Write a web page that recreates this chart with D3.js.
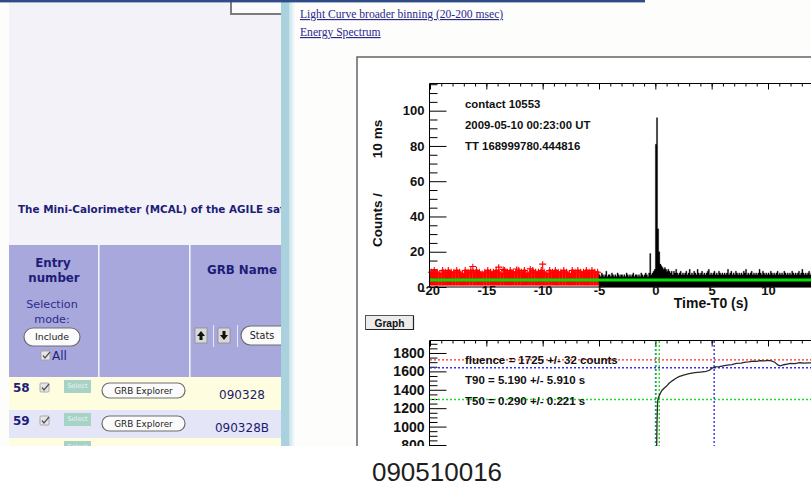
<!DOCTYPE html>
<html>
<head>
<meta charset="utf-8">
<script src="https://cdn.jsdelivr.net/npm/d3@7"></script>
<style>
  html, body { margin: 0; padding: 0; background: #fff; }
  svg { display: block; }
</style>
</head>
<body>
<svg id="chart" width="811" height="486"></svg>
<script>
// ---------- page text ----------
const pageLinks = ["Light Curve broader binning (20-200 msec)", "Energy Spectrum"];
const introText = "The Mini-Calorimeter (MCAL) of the AGILE satellite";
const tableRows = [
  { entry: "58", name: "090328" },
  { entry: "59", name: "090328B" },
  { entry: "60", name: "" }
];
const infoLines = ["contact 10553", "2009-05-10 00:23:00 UT", "TT 168999780.444816"];
const statLines = ["fluence = 1725 +/- 32 counts", "T90 = 5.190 +/- 5.910 s", "T50 = 0.290 +/- 0.221 s"];
const caption = "090510016";

// ---------- light curve (counts per 10 ms) ----------
const timeTicks = [-20, -15, -10, -5, 0, 5, 10, 15];
const timeLabels = [-20, -15, -10, -5, 0, 5, 10];
const countTicks = [0, 20, 40, 60, 80, 100];

// background interval -20 .. -5 s: highest 10 ms count in each 0.25 s stretch
const bgStart = -20, bgStep = 0.25;
const bgPeaks = [
  9, 10, 9, 8, 10, 9, 10, 9, 9, 10,
  9, 8, 10, 9, 10, 9, 10, 9, 8, 9,
  10, 9, 9, 10, 9, 8, 10, 9, 10, 9,
  9, 10, 9, 10, 8, 9, 10, 9, 9, 10,
  9, 8, 10, 9, 10, 9, 9, 10, 9, 8,
  10, 9, 10, 9, 9, 10, 9, 10, 9, 9
];
// isolated high background points [time, count]
const bgOutliers = [[-16.2, 11.6], [-13.9, 11.3], [-13.5, 10.0], [-12.3, 10.2], [-11.1, 10.3], [-10.0, 13.0]];

// burst interval from -5 s, 0.1 s stretches
const lcStart = -5, lcStep = 0.1;
const lcCounts = [
  7, 6, 8, 7, 6, 7, 9, 6, 7, 7,
  6, 8, 7, 6, 7, 6, 8, 7, 6, 7,
  7, 6, 7, 6, 8, 7, 6, 7, 6, 7,
  8, 6, 7, 7, 6, 7, 6, 8, 7, 6,
  7, 8, 7, 6, 8, 19, 7, 8, 9, 10,
  81, 96, 33, 20, 13, 12, 11, 10, 11, 10,
  9, 10, 9, 8, 9, 7, 9, 8, 10, 8,
  7, 8, 9, 7, 8, 7, 8, 9, 7, 8,
  10, 7, 8, 7, 9, 8, 7, 10, 8, 7,
  8, 9, 7, 8, 7, 8, 9, 10, 7, 8,
  7, 8, 9, 7, 8, 7, 9, 8, 7, 8,
  7, 8, 7, 8, 10, 7, 8, 9, 7, 8,
  7, 9, 8, 7, 8, 7, 8, 7, 9, 8,
  10, 7, 8, 7, 8, 9, 7, 8, 7, 8,
  7, 8, 10, 8, 7, 9, 8, 7, 8, 7,
  8, 7, 9, 8, 7, 8, 7, 8, 9, 7,
  8, 7, 8, 7, 9, 8, 7, 8, 7, 8,
  7, 9, 8, 7, 8, 7, 8, 9, 7, 8,
  10, 8, 7, 8, 7, 8, 9, 7, 8, 7,
  8, 7, 9, 8, 7
];
const bgLevel = 4.0;

// ---------- cumulative counts ----------
const cumTicks = [800, 1000, 1200, 1400, 1600, 1800];
const cumTime = [-2, -1, 0.0, 0.05, 0.1, 0.15, 0.2, 0.25, 0.3, 0.4, 0.5, 0.6, 0.8, 1.0, 1.2, 1.5, 1.8, 2.1, 2.5,
  3.0, 3.5, 4.0, 4.5, 4.8, 5.0, 5.3, 5.7, 6.0, 6.4, 6.8, 7.2, 7.6, 8.0, 8.3, 8.7, 9.0, 9.3, 9.7,
  10.0, 10.3, 10.6, 10.9, 11.1, 11.4, 11.7, 12.0, 12.4, 12.8, 13.2, 13.6, 14.0];
const cumCounts = [5, 15, 40, 200, 600, 1050, 1270, 1305, 1322, 1350, 1375, 1395, 1420, 1440, 1468, 1497, 1522, 1542, 1560,
  1576, 1586, 1593, 1601, 1612, 1632, 1648, 1652, 1661, 1668, 1673, 1686, 1690, 1701, 1704, 1712, 1708, 1716, 1714,
  1719, 1713, 1699, 1667, 1660, 1672, 1680, 1688, 1685, 1694, 1690, 1693, 1692];
const levelValues = [1725, 1639, 1294, 431, 86];
const levelColors = ["#ff2a2a", "#2f2fff", "#22dd22", "#22dd22", "#2f2fff"];
const t90Edges = [0.02, 5.22];
const t50Edges = [0.06, 0.35];

// ---------- drawing ----------
const svg = d3.select("#chart");
const defs = svg.append("defs");
defs.append("clipPath").attr("id", "shotClip")
  .append("rect").attr("x", 0).attr("y", 0).attr("width", 811).attr("height", 446);
defs.append("clipPath").attr("id", "leftClip")
  .append("rect").attr("x", 9).attr("y", 0).attr("width", 272).attr("height", 446);
const fade = defs.append("linearGradient").attr("id", "stripeFade").attr("x1", 0).attr("x2", 1).attr("y1", 0).attr("y2", 0);
fade.append("stop").attr("offset", 0).attr("stop-color", "#c6e2ea");
fade.append("stop").attr("offset", 1).attr("stop-color", "#fdfdfc");

svg.append("rect").attr("width", 811).attr("height", 486).attr("fill", "#fff");

const shot = svg.append("g").attr("clip-path", "url(#shotClip)");
shot.append("rect").attr("x", 0).attr("y", 0).attr("width", 811).attr("height", 446).attr("fill", "#fdfdfc");

// ----- left column -----
const NAVY = "#1d1d78";
const UI = "DejaVu Sans, Verdana, sans-serif";
const left = shot.append("g").attr("clip-path", "url(#leftClip)");
left.append("rect").attr("x", 9).attr("y", 0).attr("width", 272).attr("height", 446).attr("fill", "#f4f2f9");
left.append("path").attr("d", "M231,0 V14 H290").attr("fill", "none").attr("stroke", "#7c7c7c").attr("stroke-width", 2);
left.append("rect").attr("x", 232).attr("y", 0).attr("width", 60).attr("height", 13).attr("fill", "#fbfbfd");

left.append("text").attr("x", 18).attr("y", 212.5).text(introText)
  .attr("font-family", UI).attr("font-weight", "bold").attr("font-size", 10.4).attr("fill", NAVY);

// table header
left.append("rect").attr("x", 9).attr("y", 245).attr("width", 272).attr("height", 132).attr("fill", "#a8a8dc");
[98, 189].forEach(xx => left.append("rect").attr("x", xx).attr("y", 245).attr("width", 1.6).attr("height", 132).attr("fill", "#f2f2fb"));

const hdr = (t, x, y, size, weight, color) => left.append("text").attr("x", x).attr("y", y).text(t)
  .attr("text-anchor", "middle").attr("font-family", UI).attr("font-size", size)
  .attr("font-weight", weight).attr("fill", color || NAVY);
hdr("Entry", 53, 267, 11.8, "bold");
hdr("number", 54, 281.5, 11.8, "bold");
hdr("Selection", 52, 308, 11.2, "normal", "#2c2c8c");
hdr("mode:", 52, 323, 11.2, "normal", "#2c2c8c");
hdr("GRB Name", 242, 274, 11.8, "bold");

function pill(g, x, y, w, h, label, size, tx) {
  g.append("rect").attr("x", x).attr("y", y).attr("width", w).attr("height", h).attr("rx", h / 2)
    .attr("fill", "#fbfbfb").attr("stroke", "#6e6e6e").attr("stroke-width", 1.2);
  g.append("text").attr("x", tx || x + w / 2).attr("y", y + h / 2 + size * 0.36).text(label)
    .attr("text-anchor", "middle").attr("font-family", UI).attr("font-size", size).attr("fill", "#222");
}
function checkbox(g, x, y) {
  g.append("rect").attr("x", x).attr("y", y).attr("width", 9).attr("height", 9).attr("rx", 1)
    .attr("fill", "#e6e6e6").attr("stroke", "#9a9a9a").attr("stroke-width", 0.8);
  g.append("path").attr("d", `M${x + 2},${y + 4.5} L${x + 4},${y + 7} L${x + 9},${y + 1}`)
    .attr("fill", "none").attr("stroke", "#555").attr("stroke-width", 1.3);
}
function selectBox(g, x, y, h) {
  g.append("rect").attr("x", x).attr("y", y).attr("width", 27).attr("height", h).attr("fill", "#a7d3c6");
  g.append("text").attr("x", x + 13.5).attr("y", y + 8).text("Select").attr("text-anchor", "middle")
    .attr("font-family", UI).attr("font-size", 6.5).attr("fill", "#e9f5f1");
}

pill(left, 24, 328, 56, 18, "Include", 9.4);
checkbox(left, 41, 351);
left.append("text").attr("x", 52).attr("y", 360).text("All").attr("font-family", UI).attr("font-size", 12).attr("fill", NAVY);

// sort arrows + stats
[[195, "up"], [218, "down"]].forEach(([bx, dir]) => {
  left.append("rect").attr("x", bx).attr("y", 328).attr("width", 12).attr("height", 15)
    .attr("fill", "#d9d9d9").attr("stroke", "#8a8a8a").attr("stroke-width", 0.8);
  const cx = bx + 6;
  const d = dir === "up"
    ? `M${cx},${331} L${cx + 4},${336} H${cx + 1.5} V${340} H${cx - 1.5} V${336} H${cx - 4} Z`
    : `M${cx},${340} L${cx + 4},${335} H${cx + 1.5} V${331} H${cx - 1.5} V${335} H${cx - 4} Z`;
  left.append("path").attr("d", d).attr("fill", "#111");
});
[213, 237].forEach(xx => left.append("rect").attr("x", xx).attr("y", 325).attr("width", 1).attr("height", 22).attr("fill", "#e8e8f8"));
pill(left, 241, 326, 60, 19, "Stats", 9.6, 262);

// table rows
const rowTop = [377, 410, 438];
const rowH = [33, 28, 30];
const rowFill = ["#fefde0", "#e5e5f8", "#fefde0"];
tableRows.forEach((r, i) => {
  const y0 = rowTop[i];
  left.append("rect").attr("x", 9).attr("y", y0).attr("width", 272).attr("height", rowH[i]).attr("fill", rowFill[i]);
  selectBox(left, 64, y0 + 3, 13);
  if (r.name) {
    left.append("text").attr("x", 13).attr("y", y0 + 15).text(r.entry)
      .attr("font-family", UI).attr("font-weight", "bold").attr("font-size", 12).attr("fill", NAVY);
    checkbox(left, 40, y0 + 6);
    pill(left, 102, y0 + 6, 83, 15, "GRB Explorer", 8.8);
    left.append("text").attr("x", 242).attr("y", y0 + 22).text(r.name).attr("text-anchor", "middle")
      .attr("font-family", UI).attr("font-size", 12).attr("fill", "#1c1c6e");
  }
});

// divider stripe
shot.append("rect").attr("x", 281).attr("y", 0).attr("width", 8).attr("height", 446).attr("fill", "#a9d1de");
shot.append("rect").attr("x", 289).attr("y", 0).attr("width", 6).attr("height", 446).attr("fill", "url(#stripeFade)");
shot.append("rect").attr("x", 0).attr("y", 0).attr("width", 645).attr("height", 2.4).attr("fill", "#2f4c88");

// links
pageLinks.forEach((t, i) => {
  shot.append("text").attr("x", 300).attr("y", 18 + i * 18).text(t)
    .attr("font-family", "Liberation Serif, Times New Roman, serif").attr("font-size", 11.6)
    .attr("fill", "#2a2a8c").attr("text-decoration", "underline");
});

// ----- ROOT canvas -----
const canvas = shot.append("g");
canvas.append("rect").attr("x", 357).attr("y", 57).attr("width", 470).attr("height", 420)
  .attr("fill", "#fff").attr("stroke", "#5a5a5a").attr("stroke-width", 1.4);

const ROOTF = "Liberation Sans, Arial, Helvetica, sans-serif";
const x = d3.scaleLinear().domain([-20, 10]).range([430, 768]);
const yTop = d3.scaleLinear().domain([0, 115.7]).range([287, 83]);
const yBot = d3.scaleLinear().domain([0, 1941]).range([518.6, 340]);
const RIGHT = 830;

function frame(g, top, bottom) {
  g.append("path").attr("d", `M${RIGHT},${top} H429.5 V${bottom} H${RIGHT}`)
    .attr("fill", "none").attr("stroke", "#000").attr("stroke-width", 1);
}
function yAxis(g, scale, major, minor, fontSize) {
  const mi = g.append("g").attr("transform", "translate(429.5,0)")
    .call(d3.axisLeft(scale).tickValues(minor).tickSize(-8).tickFormat(""));
  mi.select(".domain").remove();
  const ma = g.append("g").attr("transform", "translate(429.5,0)")
    .call(d3.axisLeft(scale).tickValues(major).tickSize(-17).tickPadding(5).tickFormat(d => String(d)));
  ma.select(".domain").remove();
  ma.attr("font-family", ROOTF).attr("font-size", fontSize).attr("font-weight", "bold");
  ma.selectAll("text").attr("fill", "#111");
}
function topTicks(g, yPos) {
  const mi = g.append("g").attr("transform", `translate(0,${yPos})`)
    .call(d3.axisTop(x).tickValues(d3.range(-20, 16, 1)).tickSize(-3).tickFormat(""));
  mi.select(".domain").remove();
  const ma = g.append("g").attr("transform", `translate(0,${yPos})`)
    .call(d3.axisTop(x).tickValues(timeTicks).tickSize(-6).tickFormat(""));
  ma.select(".domain").remove();
}

// upper pad: light curve
const up = canvas.append("g");
const minorCounts = d3.range(0, 116, 5).filter(v => v % 20 !== 0);
yAxis(up, yTop, countTicks, minorCounts, 13);
topTicks(up, 83.5);

// background points, drawn as error crosses
const red = up.append("g").attr("fill", "#ff0000").attr("stroke", "#ff0000");
bgPeaks.forEach((v, i) => {
  const t0 = bgStart + i * bgStep;
  red.append("rect").attr("x", x(t0)).attr("y", yTop(v)).attr("width", x(t0 + bgStep) - x(t0) + 0.3)
    .attr("height", yTop(0.8) - yTop(v)).attr("stroke", "none");
  const cx = x(t0 + bgStep / 2), cy = yTop(v - 0.6);
  red.append("path").attr("d", `M${cx - 3.5},${cy} H${cx + 3.5} M${cx},${yTop(v - 2)} V${yTop(v + 1.3)}`)
    .attr("fill", "none").attr("stroke-width", 1.1);
});
bgOutliers.forEach(([t, c]) => {
  const cx = x(t), cy = yTop(c);
  red.append("path").attr("d", `M${cx - 3.5},${cy} H${cx + 3.5} M${cx},${yTop(c - 3)} V${yTop(c + 1.6)}`)
    .attr("fill", "none").attr("stroke-width", 1.1);
});

// burst-interval histogram
const lcPoints = lcCounts.map((c, i) => [lcStart + i * lcStep, c]);
lcPoints.push([lcStart + lcCounts.length * lcStep, lcCounts[lcCounts.length - 1]]);
up.append("path").datum(lcPoints)
  .attr("d", d3.area().curve(d3.curveStepAfter).x(d => x(d[0])).y0(yTop(0)).y1(d => yTop(d[1])))
  .attr("fill", "#000").attr("stroke", "#000").attr("stroke-width", 0.3);

// background level
up.append("line").attr("x1", x(-20)).attr("x2", RIGHT).attr("y1", yTop(bgLevel)).attr("y2", yTop(bgLevel))
  .attr("stroke", "#00e000").attr("stroke-width", 3);

frame(up, 83.5, 287);

// time axis labels
const xb = up.append("g").attr("transform", "translate(0,287)")
  .call(d3.axisBottom(x).tickValues(timeLabels).tickSize(0).tickPadding(-1.5).tickFormat(d => String(d)));
xb.select(".domain").remove();
xb.attr("font-family", ROOTF).attr("font-size", 13).attr("font-weight", "bold");
xb.selectAll("text").attr("fill", "#111");

up.append("text").attr("x", 711).attr("y", 308).text("Time-T0 (s)").attr("text-anchor", "middle")
  .attr("font-family", ROOTF).attr("font-size", 14).attr("font-weight", "bold").attr("fill", "#111");

up.append("text").attr("transform", "translate(382,220) rotate(-90)").text("Counts /")
  .attr("text-anchor", "middle").attr("font-family", ROOTF).attr("font-size", 13.5).attr("font-weight", "bold").attr("fill", "#111");
up.append("text").attr("transform", "translate(382,139) rotate(-90)").text("10 ms")
  .attr("text-anchor", "middle").attr("font-family", ROOTF).attr("font-size", 13.5).attr("font-weight", "bold").attr("fill", "#111");

infoLines.forEach((t, i) => {
  up.append("text").attr("x", 465).attr("y", 108 + i * 21).text(t)
    .attr("font-family", ROOTF).attr("font-size", 11.4).attr("font-weight", "bold").attr("fill", "#111");
});

// "Graph" button
canvas.append("rect").attr("x", 365.5).attr("y", 315.5).attr("width", 48).attr("height", 14)
  .attr("fill", "#ececec").attr("stroke", "#555").attr("stroke-width", 1);
canvas.append("path").attr("d", "M366,329.5 H413.5 V316").attr("fill", "none").attr("stroke", "#222").attr("stroke-width", 1.2);
canvas.append("text").attr("x", 389.5).attr("y", 326.5).text("Graph").attr("text-anchor", "middle")
  .attr("font-family", ROOTF).attr("font-size", 10.2).attr("font-weight", "bold").attr("fill", "#111");

// lower pad: cumulative counts
const lo = canvas.append("g");
yAxis(lo, yBot, cumTicks, d3.range(750, 1941, 50).filter(v => v % 200 !== 0), 14);
topTicks(lo, 340.5);

levelValues.forEach((v, i) => {
  lo.append("line").attr("x1", 430).attr("x2", RIGHT).attr("y1", yBot(v)).attr("y2", yBot(v))
    .attr("stroke", levelColors[i]).attr("stroke-width", 1.4).attr("stroke-dasharray", "2,2");
});
[[t90Edges, "#2f2fff"], [t50Edges, "#22dd22"]].forEach(([edges, col]) => {
  edges.forEach(t => lo.append("line").attr("x1", x(t)).attr("x2", x(t)).attr("y1", 341).attr("y2", 520)
    .attr("stroke", col).attr("stroke-width", 1.4).attr("stroke-dasharray", "2,2"));
});

lo.append("path").datum(cumTime.map((t, i) => [t, cumCounts[i]]))
  .attr("d", d3.line().x(d => x(d[0])).y(d => yBot(d[1])))
  .attr("fill", "none").attr("stroke", "#2a2a2a").attr("stroke-width", 1.3);

frame(lo, 340.5, 520);

statLines.forEach((t, i) => {
  lo.append("text").attr("x", 465).attr("y", 363.5 + i * 20.5).text(t)
    .attr("font-family", ROOTF).attr("font-size", 11.5).attr("font-weight", "bold").attr("fill", "#111");
});

// caption below
svg.append("text").attr("x", 437).attr("y", 481).text(caption).attr("text-anchor", "middle")
  .attr("font-family", ROOTF).attr("font-size", 26).attr("fill", "#1e1e1e");
</script>
</body>
</html>
